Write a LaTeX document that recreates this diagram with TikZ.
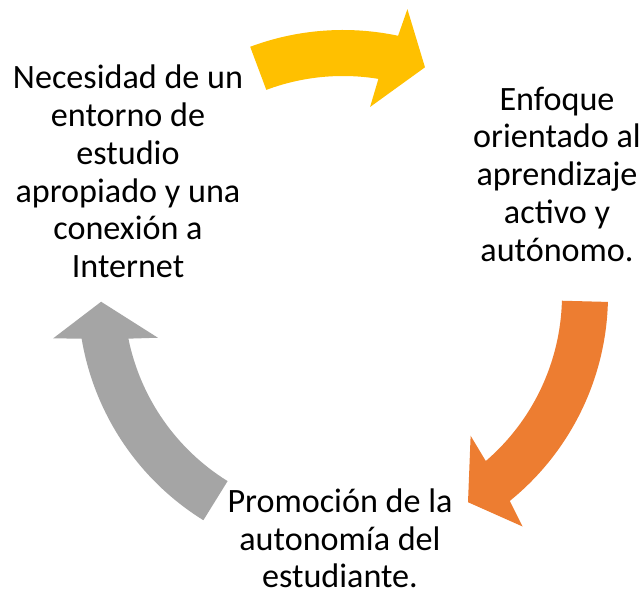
\documentclass[tikz,border=0pt]{standalone}
\usepackage{fontspec}
\setmainfont{Carlito}
\definecolor{cyYellow}{HTML}{FFC000}
\definecolor{cyOrange}{HTML}{ED7D31}
\definecolor{cyGrey}{HTML}{A5A5A5}
\begin{document}
\begin{tikzpicture}[x=0.75pt,y=0.75pt,
  label text/.style={align=center,inner sep=0pt,text=black,
    font=\fontsize{25.6}{28.3}\selectfont},
  cyc arrow/.style={draw=none}]
\fill[white] (0,0) rectangle (641,591);
\useasboundingbox (0,0) rectangle (641,591);
\coordinate (C) at (343,296);
% text nodes
\node[label text] (t1) at (128,419.5) {Necesidad de un\\entorno de\\estudio\\apropiado y una\\conexión a\\Internet};
\node[label text] (t2) at (557,417) {Enfoque\\orientado al\\aprendizaje\\activo y\\autónomo.};
\node[label text] (t3) at (340,52.5) {Promoción de la\\autonomía del\\estudiante.};
% circular arrows
\begin{scope}[shift={(C)}]
\fill[cyYellow,cyc arrow] (110.5:265) arc[start angle=110.5,end angle=78,radius=198.75pt]
  -- (77.3:293) -- (70.2:242) -- (81.8:190) -- (80.7:219)
  arc[start angle=80.7,end angle=110.5,radius=164.25pt] -- cycle;
\fill[cyOrange,cyc arrow] (-1.5:265) arc[start angle=-1.5,end angle=-51,radius=198.75pt]
  -- (-52.2:293) -- (-58.9:242) -- (-47.8:190) -- (-49.3:219)
  arc[start angle=-49.3,end angle=-1.5,radius=164.25pt] -- cycle;
\fill[cyGrey,cyc arrow] (238.2:265) arc[start angle=238.2,end angle=189.5,radius=198.75pt]
  -- (188.5:293) -- (181.6:242) -- (193:190) -- (191.5:219)
  arc[start angle=191.5,end angle=238.2,radius=164.25pt] -- cycle;
\end{scope}
\end{tikzpicture}
\end{document}
